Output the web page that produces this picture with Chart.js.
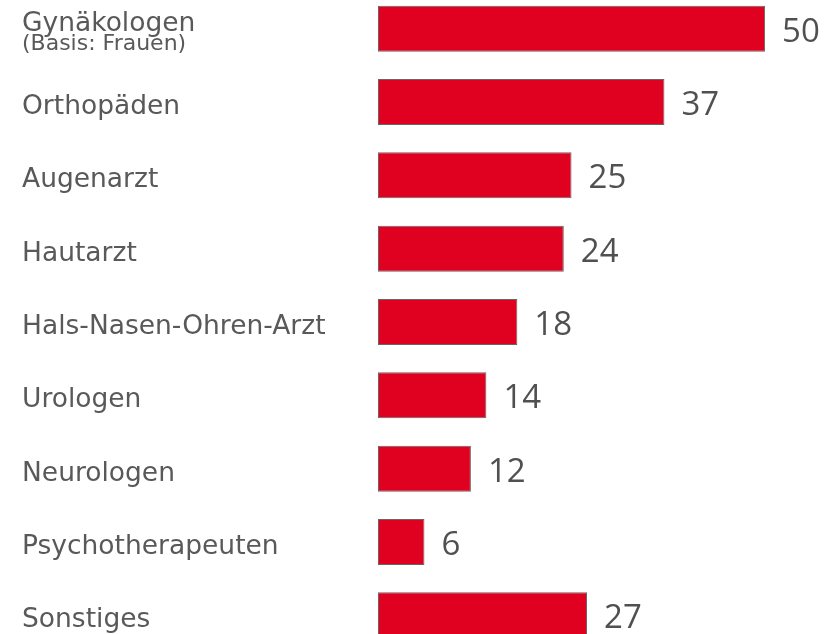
<!DOCTYPE html>
<html>
<head>
<meta charset="utf-8">
<script src="https://cdn.jsdelivr.net/npm/chart.js@4"></script>
<style>
  html, body { margin: 0; padding: 0; background: #fff; overflow: hidden; }
  #wrap { position: absolute; left: 0; top: -8px; width: 839px; height: 660px; }
</style>
</head>
<body>
<div id="wrap"><canvas id="barCanvas"></canvas></div>
<script>
// Chart data
const categories = [
  'Gynäkologen', 'Orthopäden', 'Augenarzt', 'Hautarzt',
  'Hals-Nasen-Ohren-Arzt', 'Urologen', 'Neurologen',
  'Psychotherapeuten', 'Sonstiges'
];
const subLabels = ['(Basis: Frauen)', '', '', '', '', '', '', '', ''];
const values = [50, 37, 25, 24, 18, 14, 12, 6, 27];

// draws the category names on the left and the numbers after each bar
const labelPlugin = {
  id: 'labelPlugin',
  afterDatasetsDraw(chart) {
    const ctx = chart.ctx;
    const meta = chart.getDatasetMeta(0);
    ctx.save();
    meta.data.forEach((bar, i) => {
      const y = bar.y;
      ctx.textAlign = 'left';
      ctx.textBaseline = 'alphabetic';
      ctx.fillStyle = '#595959';
      if (subLabels[i]) {
        ctx.font = '26.5px "DejaVu Sans"';
        ctx.fillText(categories[i], 22, y + 2);
        ctx.font = '22px "DejaVu Sans"';
        ctx.fillText(subLabels[i], 22, y + 21);
      } else {
        ctx.font = '26.5px "DejaVu Sans"';
        ctx.fillText(categories[i], 22, y + 12);
      }
      ctx.fillStyle = '#505050';
      ctx.font = '33px "Open Sans"';
      ctx.fillText(String(values[i]), bar.x + 17, y + 13);
    });
    ctx.restore();
  }
};

const config = {
  type: 'bar',
  data: {
    labels: categories,
    datasets: [{
      data: values,
      backgroundColor: '#e00020',
      borderColor: '#666666',
      borderWidth: 1,
      borderSkipped: false,
      barPercentage: 0.628,
      categoryPercentage: 1
    }]
  },
  options: {
    indexAxis: 'y',
    responsive: true,
    maintainAspectRatio: false,
    animation: false,
    layout: { padding: { left: 378, right: 12, top: 0, bottom: 0 } },
    plugins: { legend: { display: false }, tooltip: { enabled: false } },
    scales: {
      x: { display: false, min: 0, max: 58 },
      y: { display: false }
    }
  },
  plugins: [labelPlugin]
};

new Chart(document.getElementById('barCanvas'), config);
</script>
</body>
</html>
